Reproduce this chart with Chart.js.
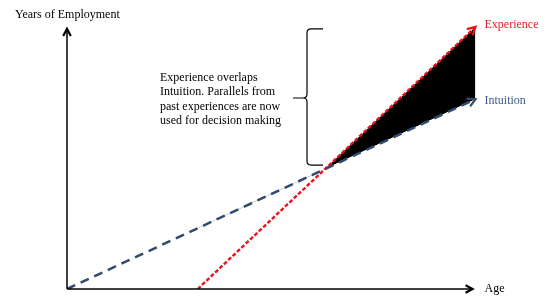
<!DOCTYPE html>
<html>
<head>
<meta charset="utf-8">
<script src="https://cdn.jsdelivr.net/npm/chart.js@4"></script>
<style>
  html, body { margin: 0; padding: 0; background: #fff; }
  #wrap { width: 551px; height: 304px; }
</style>
</head>
<body>
<div id="wrap"><canvas id="chart" width="551" height="304"></canvas></div>
<script>
// values (age on x, years of employment on y, 0-100 units)
const intuitionAge = [0, 53.3, 84.4];
const intuitionYears = [0, 41.5, 65.7];
const experienceAge = [27.0, 53.3, 84.4];
const experienceYears = [0, 41.5, 90.7];
const axisEnds = { age: 83.8, years: 90 };

const xTitle = 'Age';
const yTitle = 'Years of Employment';
const seriesNames = ['Intuition', 'Experience'];
const noteLines = [
    'Experience overlaps',
    'Intuition. Parallels from',
    'past experiences are now',
    'used for decision making'
];

const FONT = '12px "Liberation Serif", "Times New Roman", serif';
const blue = '#2f4b6e';
const red = '#e8141c';

function toPoints(xs, ys) {
    return xs.map((x, i) => ({ x: x, y: ys[i] }));
}

function chevron(ctx, x, y, angle, size, width) {
    ctx.save();
    ctx.lineWidth = width;
    ctx.beginPath();
    ctx.moveTo(x - size * Math.cos(angle - 0.5), y - size * Math.sin(angle - 0.5));
    ctx.lineTo(x, y);
    ctx.lineTo(x - size * Math.cos(angle + 0.5), y - size * Math.sin(angle + 0.5));
    ctx.stroke();
    ctx.restore();
}

const decorations = {
    id: 'decorations',
    afterDatasetsDraw(chart) {
        const ctx = chart.ctx;
        const xs = chart.scales.x;
        const ys = chart.scales.y;
        const x0 = xs.getPixelForValue(0);
        const y0 = ys.getPixelForValue(0);
        const xEnd = xs.getPixelForValue(axisEnds.age);
        const yEnd = ys.getPixelForValue(axisEnds.years);

        // axes with arrow heads
        ctx.save();
        ctx.strokeStyle = '#000';
        ctx.lineWidth = 1.5;
        ctx.beginPath();
        ctx.moveTo(x0, y0);
        ctx.lineTo(xEnd, y0);
        ctx.moveTo(x0, y0);
        ctx.lineTo(x0, yEnd);
        ctx.stroke();
        chevron(ctx, xEnd, y0, 0, 8, 2.2);
        chevron(ctx, x0, yEnd, -Math.PI / 2, 8, 2.2);
        ctx.restore();

        // arrow heads on the series
        chart.data.datasets.forEach((ds, i) => {
            const pts = chart.getDatasetMeta(i).data;
            const a = pts[pts.length - 2], b = pts[pts.length - 1];
            const ang = Math.atan2(b.y - a.y, b.x - a.x);
            ctx.strokeStyle = ds.borderColor;
            chevron(ctx, b.x, b.y, ang, 9, 2.2);
        });

        // text labels
        ctx.save();
        ctx.font = FONT;
        ctx.textBaseline = 'middle';
        ctx.textAlign = 'left';
        ctx.fillStyle = '#000';
        ctx.fillText(yTitle, 15, 15);
        ctx.fillText(xTitle, xEnd + 12, y0);

        const intEnd = chart.getDatasetMeta(0).data[2];
        const expEnd = chart.getDatasetMeta(1).data[2];
        ctx.fillStyle = '#3b5a8a';
        ctx.fillText(seriesNames[0], intEnd.x + 9, intEnd.y + 2);
        ctx.fillStyle = '#e0202a';
        ctx.fillText(seriesNames[1], expEnd.x + 9, expEnd.y - 2);

        ctx.fillStyle = '#000';
        noteLines.forEach((t, i) => ctx.fillText(t, 160, 78 + i * 14.2));
        ctx.restore();

        // brace from experience end down to the crossing point
        const cross = chart.getDatasetMeta(0).data[1];
        const top = expEnd.y + 2;
        const bot = cross.y - 4;
        const mid = 98;
        const bx = 307, r = 4;
        ctx.save();
        ctx.strokeStyle = '#000';
        ctx.lineWidth = 1.2;
        ctx.beginPath();
        ctx.moveTo(bx + 16, top);
        ctx.lineTo(bx + r, top);
        ctx.quadraticCurveTo(bx, top, bx, top + r);
        ctx.lineTo(bx, mid - r);
        ctx.quadraticCurveTo(bx, mid, bx - r, mid);
        ctx.lineTo(bx - 14, mid);
        ctx.moveTo(bx - r, mid);
        ctx.quadraticCurveTo(bx, mid, bx, mid + r);
        ctx.lineTo(bx, bot - r);
        ctx.quadraticCurveTo(bx, bot, bx + r, bot);
        ctx.lineTo(bx + 16, bot);
        ctx.stroke();
        ctx.restore();
    }
};

new Chart(document.getElementById('chart'), {
    type: 'line',
    data: {
        datasets: [
            {
                label: seriesNames[0],
                data: toPoints(intuitionAge, intuitionYears),
                borderColor: blue,
                borderWidth: 2.5,
                borderDash: [9, 6],
                pointRadius: 0,
                fill: false
            },
            {
                label: seriesNames[1],
                data: toPoints(experienceAge, experienceYears),
                borderColor: red,
                borderWidth: 2.4,
                borderDash: [4, 2],
                pointRadius: 0,
                fill: { target: 0, above: '#000', below: 'rgba(0,0,0,0)' }
            }
        ]
    },
    options: {
        responsive: false,
        animation: false,
        layout: { padding: { left: 67, right: 0, top: 0, bottom: 15 } },
        scales: {
            x: { type: 'linear', min: 0, max: 100, display: false },
            y: { type: 'linear', min: 0, max: 100, display: false }
        },
        plugins: {
            legend: { display: false },
            tooltip: { enabled: false }
        }
    },
    plugins: [decorations]
});
</script>
</body>
</html>
